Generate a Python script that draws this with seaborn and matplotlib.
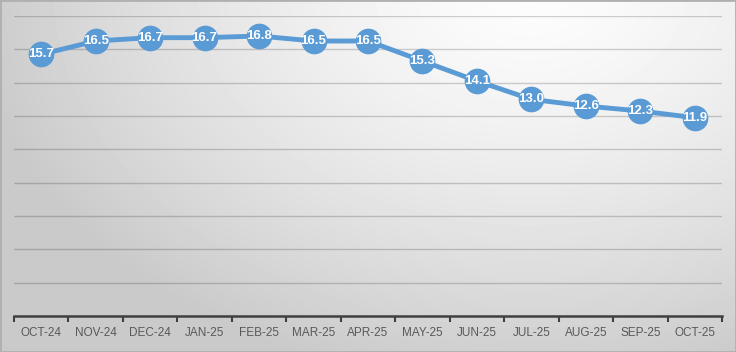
import matplotlib
matplotlib.use("Agg")
import matplotlib.pyplot as plt
import numpy as np
import pandas as pd
import seaborn as sns

months = ["OCT-24", "NOV-24", "DEC-24", "JAN-25", "FEB-25", "MAR-25", "APR-25",
          "MAY-25", "JUN-25", "JUL-25", "AUG-25", "SEP-25", "OCT-25"]
values = [15.7, 16.5, 16.7, 16.7, 16.8, 16.5, 16.5, 15.3, 14.1, 13.0, 12.6, 12.3, 11.9]

df = pd.DataFrame({"month": months, "value": values})
df["pos"] = np.arange(len(months))

sns.set_style("white")
plt.rcParams["font.family"] = ["Liberation Sans", "DejaVu Sans"]
fig = plt.figure(figsize=(7.36, 3.52), dpi=100)

# radial gradient background, bright near the top
bg = fig.add_axes([0, 0, 1, 1], zorder=-10)
yy, xx = np.mgrid[0:352, 0:736]
d = np.sqrt(((xx - 530) / 736) ** 2 + ((yy + 10) / 520) ** 2)
shade = np.clip(0.99 - 0.29 * d ** 1.4, 0.79, 0.99)
bg.imshow(shade, cmap="gray", vmin=0, vmax=1, aspect="auto", extent=[0, 1, 0, 1])
bg.axis("off")
bg.add_patch(plt.Rectangle((0, 0), 1, 1, transform=bg.transAxes, fill=False,
                           edgecolor="#b0b0b0", lw=2))

ax = fig.add_axes([14 / 736, 1 - 316 / 352, 708 / 736, 300 / 352])
ax.patch.set_alpha(0)

blue = "#5B9BD5"
sns.lineplot(data=df, x="pos", y="value", ax=ax, color=blue, lw=3.5,
             marker="o", markersize=18.5, markeredgecolor=blue, markeredgewidth=0)

for x, v in zip(df["pos"], df["value"]):
    ax.text(x, v, f"{v:.1f}", color="white", fontsize=9.5, fontweight="bold",
            ha="center", va="center")

ax.set_xlim(-0.5, len(months) - 0.5)
ax.set_ylim(0, 18)
ax.set_yticks(np.arange(0, 19, 2))
ax.yaxis.grid(True, color="black", alpha=0.18, lw=1)
ax.set_axisbelow(True)
ax.tick_params(axis="y", left=False, labelleft=False)

ax.set_xticks(df["pos"])
ax.set_xticklabels(months, fontsize=8.5, color="#595959")
ax.set_xticks(np.arange(-0.5, len(months), 1), minor=True)
ax.tick_params(axis="x", which="major", length=0, pad=8)
ax.tick_params(axis="x", which="minor", length=4, width=1.5, color="#404040", bottom=True)
ax.set_xlabel("")
ax.set_ylabel("")

for s in ["top", "left", "right"]:
    ax.spines[s].set_visible(False)
ax.spines["bottom"].set_color("#404040")
ax.spines["bottom"].set_linewidth(1.8)

fig.savefig("out.png", dpi=100)
